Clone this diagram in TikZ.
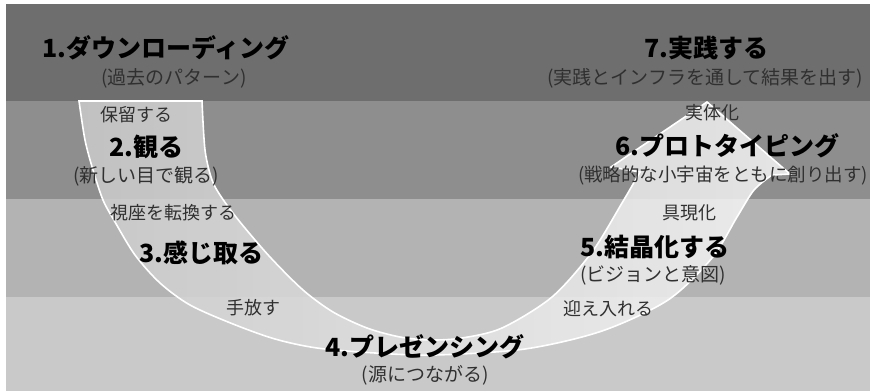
\documentclass[tikz,border=0pt]{standalone}
\usepackage{fontspec}
\setmainfont{Noto Sans CJK JP}
\definecolor{bandA}{HTML}{6E6E6E}
\definecolor{bandB}{HTML}{8E8E8E}
\definecolor{bandC}{HTML}{B3B3B3}
\definecolor{bandD}{HTML}{C9C9C9}
\definecolor{arL}{HTML}{CDCDCD}
\definecolor{arM}{HTML}{E6E6E6}
\definecolor{arR}{HTML}{F8F8F8}
\definecolor{subtxt}{HTML}{303030}
\tikzset{
  ttl/.style={inner sep=0pt, font=\fontsize{25}{30}\selectfont\bfseries, text=black},
  subt/.style={inner sep=0pt, font=\fontsize{19}{23}\selectfont, text=subtxt},
  lbl/.style={inner sep=0pt, font=\fontsize{18}{22}\selectfont, text=subtxt},
}
\def\arrowpath{(79,101) -- (202,101)
  -- plot[smooth] coordinates {(202,101) (205,150) (212,180) (222,198) (240,222) (270,257) (303,290) (333,312) (367,328) (400,337) (430,340) (462,338) (502,328) (552,297) (592,252) (622,203) (640,172)}
  -- (611,167) -- (707,102) -- (790,174) -- (772,175)
  -- plot[smooth] coordinates {(772,175) (754,190) (737,217) (712,258) (668,300) (602,331) (525,349) (435,355) (375,353) (317,348) (275,339) (233,324) (190,305) (160,283) (135,255) (115,222) (103,200) (93,170) (85,140) (79,101)}
  -- cycle}
\begin{document}
\begin{tikzpicture}[x=1pt,y=-1pt]
\useasboundingbox (0,0) rectangle (870,391);
\begin{scope}
\clip (0,0) rectangle (870,391);
\fill[white] (0,0) rectangle (870,391);
\fill[bandA] (6,4) rectangle (870,101);
\fill[bandB] (6,101) rectangle (870,199);
\fill[bandC] (6,199) rectangle (870,297);
\fill[bandD] (6,297) rectangle (870,391);

\shade[left color=arL, middle color=arM, right color=arR, fill opacity=0.82] \arrowpath;
\draw[white, line width=1.6pt, line join=miter] \arrowpath;

\node[ttl] (t1) at (166,48) {1.ダウンローディング};
\node[subt] (s1) at (174,78) {(過去のパターン)};
\node[lbl] (l2) at (136,115) {保留する};
\node[ttl] (t2) at (146,147) {2.観る};
\node[subt] (s2) at (146,176) {(新しい目で観る)};
\node[lbl] (l3) at (173,213) {視座を転換する};
\node[ttl] (t3) at (201,253) {3.感じ取る};
\node[lbl] (l4) at (253,308) {手放す};
\node[ttl] (t4) at (425,347) {4.プレゼンシング};
\node[subt] (s4) at (425,375) {(源につながる)};
\node[lbl] (l5) at (608,309) {迎え入れる};
\node[ttl] (t5) at (655,247) {5.結晶化する};
\node[subt] (s5) at (653,275) {(ビジョンと意図)};
\node[lbl] (l6) at (689,213) {具現化};
\node[lbl] (l7) at (712,113) {実体化};
\node[ttl] (t6) at (727,146) {6.プロトタイピング};
\node[subt, anchor=west, font=\fontsize{18.5}{22}\selectfont] (s6) at (578,176) {(戦略的な小宇宙をともに創り出す)};
\node[ttl] (t7) at (706,48) {7.実践する};
\node[subt] (s7) at (705,78) {(実践とインフラを通して結果を出す)};
\end{scope}
\end{tikzpicture}
\end{document}
